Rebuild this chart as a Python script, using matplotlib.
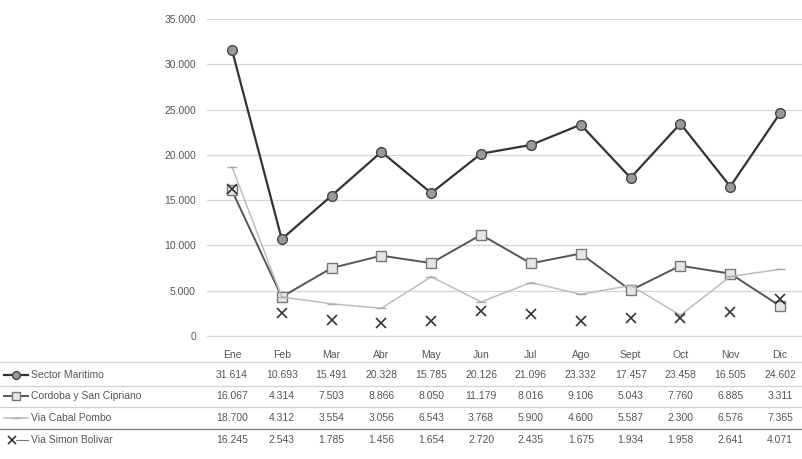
import numpy as np
import matplotlib
matplotlib.use('agg')
import matplotlib.pyplot as plt
from matplotlib.lines import Line2D
from matplotlib.ticker import FuncFormatter
import matplotlib.transforms as mtransforms

months = ['Ene', 'Feb', 'Mar', 'Abr', 'May', 'Jun', 'Jul', 'Ago', 'Sept',
          'Oct', 'Nov', 'Dic']
sector_maritimo = [31614, 10693, 15491, 20328, 15785, 20126, 21096, 23332,
                   17457, 23458, 16505, 24602]
cordoba_san_cipriano = [16067, 4314, 7503, 8866, 8050, 11179, 8016, 9106,
                        5043, 7760, 6885, 3311]
via_cabal_pombo = [18700, 4312, 3554, 3056, 6543, 3768, 5900, 4600, 5587,
                   2300, 6576, 7365]
via_simon_bolivar = [16245, 2543, 1785, 1456, 1654, 2720, 2435, 1675, 1934,
                     1958, 2641, 4071]
series_names = ['Sector Maritimo', 'Cordoba y San Cipriano',
                'Via Cabal Pombo', 'Via Simon Bolivar']

plt.rcParams['font.family'] = ['Liberation Sans', 'DejaVu Sans']
txt = '#555555'

fig = plt.figure(figsize=(8.03, 4.59), dpi=100)
W, H = 803, 459
ax = fig.add_axes([207 / W, 1 - 336 / H, 598 / W, 317 / H])
x = np.arange(len(months))

styles = [
    dict(color='#333333', lw=1.6, marker='o', ms=7, mfc='#9a9a9a',
         mec='#444444', mew=1.0),
    dict(color='#555555', lw=1.4, marker='s', ms=7, mfc='#e6e6e6',
         mec='#777777', mew=1.0),
    dict(color='#bdbdbd', lw=1.1, marker='_', ms=7, mec='#aaaaaa', mew=1.0),
    dict(color='#333333', lw=0, marker='x', ms=7, mec='#333333', mew=1.2),
]
data = [sector_maritimo, cordoba_san_cipriano, via_cabal_pombo,
        via_simon_bolivar]
order = [2, 1, 0, 3]
for i in order:
    ax.plot(x, data[i], zorder=3 + i, **styles[i])

ax.set_xlim(-0.5, len(months) - 0.5)
ax.set_ylim(0, 35000)
ax.set_yticks(range(0, 35001, 5000))
ax.yaxis.set_major_formatter(
    FuncFormatter(lambda v, p: '0' if v == 0 else f'{int(v):,}'.replace(',', '.')))
ax.grid(axis='y', color='#d6d6d6', lw=0.9)
ax.set_axisbelow(True)
for s in ['top', 'right', 'left']:
    ax.spines[s].set_visible(False)
ax.spines['bottom'].set_color('#d6d6d6')
ax.tick_params(axis='y', length=0, pad=8, labelsize=7.5, labelcolor=txt)
ax.set_xticks(x)
ax.set_xticklabels(months)
ax.tick_params(axis='x', length=0, pad=10, labelsize=7.5, labelcolor=txt)

# data table below the chart
trans = mtransforms.blended_transform_factory(ax.transData, fig.transFigure)
row_y = [375, 396, 418, 440]
for r, (name, vals) in enumerate(zip(series_names, data)):
    yf = 1 - row_y[r] / H
    for xi, v in zip(x, vals):
        fig.text(xi, yf, f'{v:,}'.replace(',', '.'), transform=trans,
                 ha='center', va='center', fontsize=7.5, color=txt)
    fig.text(31 / W, yf, name, ha='left', va='center', fontsize=7.5,
             color=txt)
    st = dict(styles[r])
    st['ms'] = st['ms'] * 0.8
    if r < 3:
        fig.add_artist(Line2D([4 / W, 16 / W, 28 / W], [yf] * 3,
                              transform=fig.transFigure, markevery=[1], **st))
    else:
        fig.add_artist(Line2D([16 / W, 28 / W], [yf, yf],
                              transform=fig.transFigure, color='#777777',
                              lw=0.8))
        fig.add_artist(Line2D([12 / W], [yf], transform=fig.transFigure,
                              **st))

for yl in [362, 386, 407, 429]:
    col = '#777777' if yl == 429 else '#d0d0d0'
    fig.add_artist(Line2D([0, 1], [1 - yl / H] * 2,
                          transform=fig.transFigure, color=col, lw=0.9))

fig.savefig('out.png', dpi=100)
